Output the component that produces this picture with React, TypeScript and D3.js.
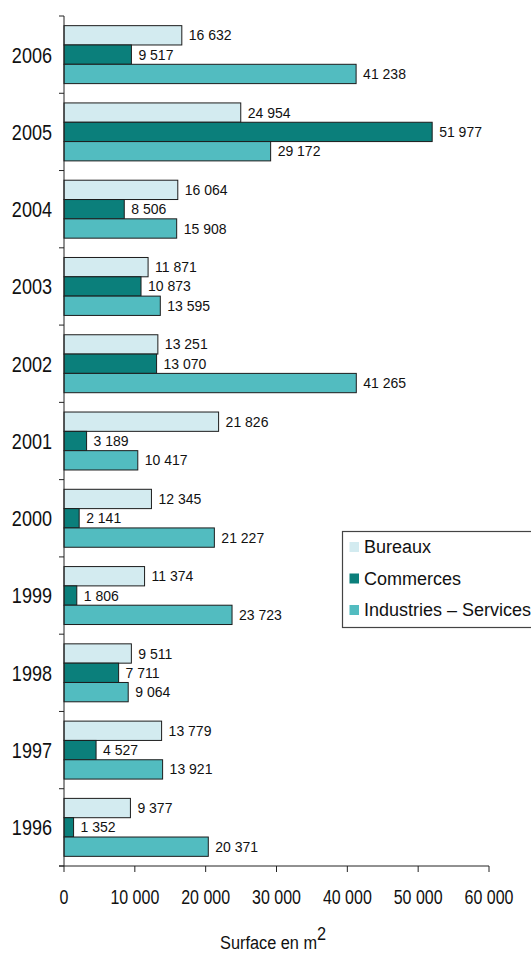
import React, { useRef, useEffect } from 'react';
import { select, scaleLinear, scaleBand, range } from 'd3';

const years = ['2006', '2005', '2004', '2003', '2002', '2001', '2000', '1999', '1998', '1997', '1996'];
const bureaux = [16632, 24954, 16064, 11871, 13251, 21826, 12345, 11374, 9511, 13779, 9377];
const commerces = [9517, 51977, 8506, 10873, 13070, 3189, 2141, 1806, 7711, 4527, 1352];
const industries = [41238, 29172, 15908, 13595, 41265, 10417, 21227, 23723, 9064, 13921, 20371];
const seriesNames = ['Bureaux', 'Commerces', 'Industries – Services'];
const seriesColors = ['#d3ebf0', '#0b7f7b', '#52bcc0'];
const xTicks = [0, 10000, 20000, 30000, 40000, 50000, 60000];

const font = '"Liberation Sans", Arial, sans-serif';
const squeeze = 0.82; // narrow look

const fmt = (v: number) => String(v).replace(/\B(?=(\d{3})+(?!\d))/g, ' ');

function App() {
  const svgRef: any = useRef();

  useEffect(() => {
    const svg = select(svgRef.current);
    svg.selectAll('*').remove();

    const x: any = scaleLinear().domain([0, 60000]).range([64, 489]);
    const y: any = scaleBand().domain(years).range([16, 866]).paddingInner(0.25).paddingOuter(0.125);
    const sub: any = scaleBand().domain(['0', '1', '2']).range([0, y.bandwidth()]);
    const series = [bureaux, commerces, industries];

    // bars
    series.forEach((vals, si) => {
      const g = svg.append('g');
      g.selectAll('rect')
        .data(vals)
        .join('rect')
        .attr('x', x(0))
        .attr('y', (d: any, i: number) => y(years[i]) + sub(String(si)))
        .attr('width', (d: any) => x(d) - x(0))
        .attr('height', sub.bandwidth())
        .attr('fill', seriesColors[si])
        .attr('stroke', '#1c1c1c')
        .attr('stroke-width', 1);
      g.selectAll('text')
        .data(vals)
        .join('text')
        .attr('x', (d: any) => x(d) + 7)
        .attr('y', (d: any, i: number) => y(years[i]) + sub(String(si)) + sub.bandwidth() / 2)
        .attr('dy', '0.36em')
        .attr('font-family', font)
        .attr('font-size', 14)
        .attr('fill', '#111')
        .text((d: any) => fmt(d));
    });

    // y axis
    const step = y.step();
    svg.append('line')
      .attr('x1', 64).attr('x2', 64)
      .attr('y1', 16).attr('y2', 866)
      .attr('stroke', '#222');
    svg.selectAll('.ytick')
      .data(range(years.length + 1))
      .join('line')
      .attr('class', 'ytick')
      .attr('x1', 59).attr('x2', 64)
      .attr('y1', (i: number) => 16 + i * step)
      .attr('y2', (i: number) => 16 + i * step)
      .attr('stroke', '#222');
    svg.selectAll('.ylabel')
      .data(years)
      .join('text')
      .attr('class', 'ylabel')
      .attr('transform', (d: string) => `translate(52,${y(d) + y.bandwidth() / 2}) scale(${squeeze},1)`)
      .attr('dy', '0.36em')
      .attr('text-anchor', 'end')
      .attr('font-family', font)
      .attr('font-size', 22)
      .attr('fill', '#111')
      .text((d: string) => d);

    // x axis
    svg.append('line')
      .attr('x1', 59).attr('x2', x(60000))
      .attr('y1', 866).attr('y2', 866)
      .attr('stroke', '#222');
    svg.selectAll('.xtick')
      .data(xTicks)
      .join('line')
      .attr('class', 'xtick')
      .attr('x1', (d: number) => x(d)).attr('x2', (d: number) => x(d))
      .attr('y1', 866).attr('y2', 872)
      .attr('stroke', '#222');
    svg.selectAll('.xlabel')
      .data(xTicks)
      .join('text')
      .attr('class', 'xlabel')
      .attr('transform', (d: number) => `translate(${x(d)},904) scale(${squeeze},1)`)
      .attr('text-anchor', 'middle')
      .attr('font-family', font)
      .attr('font-size', 19.5)
      .attr('fill', '#111')
      .text((d: number) => fmt(d));

    const title = svg.append('text')
      .attr('transform', `translate(220,949) scale(0.86,1)`)
      .attr('font-family', font)
      .attr('font-size', 19)
      .attr('fill', '#111');
    title.append('tspan').text('Surface en m');
    title.append('tspan').attr('dy', -9).attr('font-size', 19).text('2');

    // legend
    const lg = svg.append('g').attr('transform', 'translate(342.5,531.5)');
    lg.append('rect')
      .attr('width', 200).attr('height', 96)
      .attr('fill', '#fff')
      .attr('stroke', '#444')
      .attr('stroke-width', 1.2);
    seriesNames.forEach((name, i) => {
      lg.append('rect')
        .attr('x', 7).attr('y', 10.5 + i * 31.5)
        .attr('width', 9.5).attr('height', 10)
        .attr('fill', seriesColors[i]);
      lg.append('text')
        .attr('x', 21.5).attr('y', 15.5 + i * 31.5)
        .attr('dy', '0.36em')
        .attr('font-family', font)
        .attr('font-size', 18)
        .attr('fill', '#111')
        .text(name);
    });
  }, []);

  return (
    <div>
      <svg ref={svgRef} width={531} height={953} style={{ position: 'absolute', left: 0, top: 0, background: '#fff' }} />
    </div>
  );
}

export default App;
